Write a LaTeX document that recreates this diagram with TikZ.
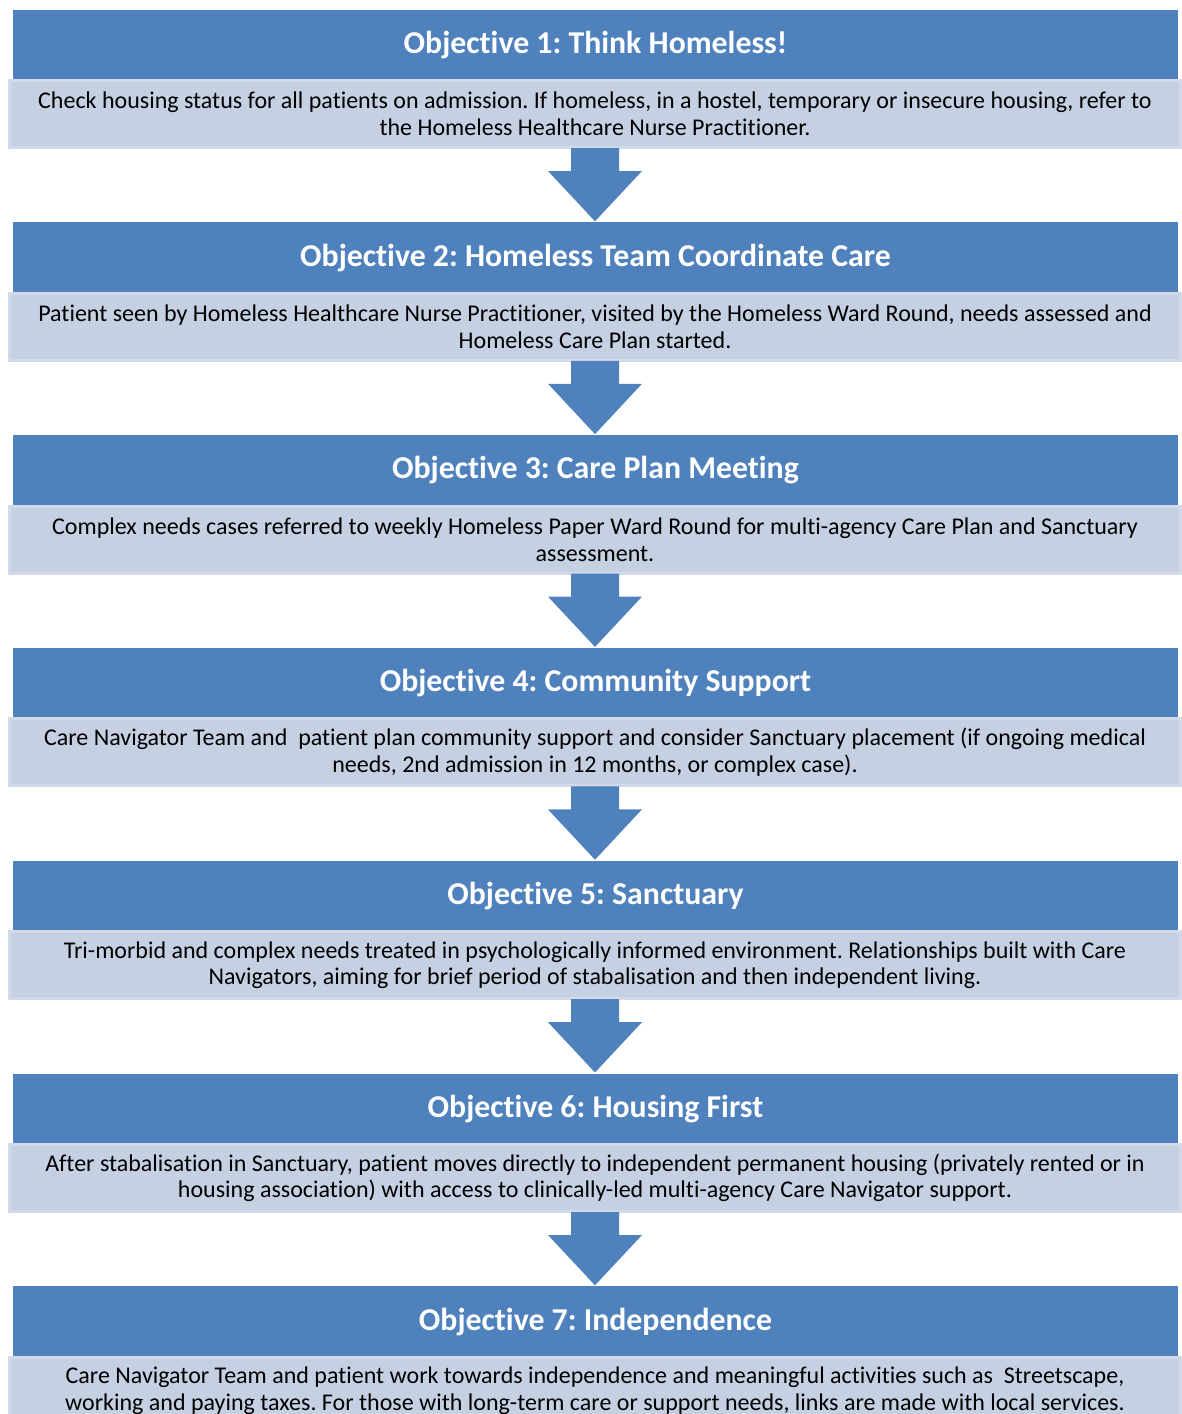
\documentclass[tikz,border=0pt]{standalone}
\usepackage{fontspec}
\setmainfont[Ligatures=NoCommon]{Carlito}
\usetikzlibrary{calc}
\frenchspacing
\definecolor{hdrblue}{HTML}{4F81BD}
\definecolor{bodyfill}{HTML}{C5D0E3}
\definecolor{bodyedge}{HTML}{D2DAE9}
\tikzset{
  header/.style={fill=hdrblue, minimum width=1165pt, minimum height=70.5pt,
    inner sep=0pt, outer sep=0pt, text=white,
    font=\fontsize{31.8}{36}\selectfont\bfseries, anchor=north},
  bodybox/.style={fill=bodyfill, draw=bodyedge, line width=3pt,
    minimum width=1171pt, minimum height=67pt, inner sep=0pt,
    align=center, font=\fontsize{24}{26.5}\selectfont, anchor=north},
  flowarrow/.style={fill=hdrblue}
}
\begin{document}
\begin{tikzpicture}[x=1pt,y=-1pt]
\useasboundingbox (0,0) rectangle (1182,1414);
\clip (0,0) rectangle (1182,1414);

% objective headers and their descriptions
\foreach \i/\title/\desc in {
 1/{Objective 1: Think Homeless!}/{Check housing status for all patients on admission. If homeless, in a hostel, temporary or insecure housing, refer to\\the Homeless Healthcare Nurse Practitioner.},
 2/{Objective 2: Homeless Team Coordinate Care}/{Patient seen by Homeless Healthcare Nurse Practitioner, visited by the Homeless Ward Round, needs assessed and\\Homeless Care Plan started.},
 3/{Objective 3: Care Plan Meeting}/{Complex needs cases referred to weekly Homeless Paper Ward Round for multi-agency Care Plan and Sanctuary\\assessment.},
 4/{Objective 4: Community Support}/{Care Navigator Team and\ \ patient plan community support and consider Sanctuary placement (if ongoing medical\\needs, 2nd admission in 12 months, or complex case).},
 5/{Objective 5: Sanctuary}/{Tri-morbid and complex needs treated in psychologically informed environment. Relationships built with Care\\Navigators, aiming for brief period of stabalisation and then independent living.},
 6/{Objective 6: Housing First}/{After stabalisation in Sanctuary, patient moves directly to independent permanent housing (privately rented or in\\housing association) with access to clinically-led multi-agency Care Navigator support.},
 7/{Objective 7: Independence}/{Care Navigator Team and patient work towards independence and meaningful activities such as\ \ Streetscape,\\working and paying taxes. For those with long-term care or support needs, links are made with local services.}}
{
  \pgfmathsetmacro{\top}{8.5+212.8*(\i-1)}
  \node[header] (h\i) at (595.5,\top+1) {\title};
  \node[bodybox] (b\i) at (595,\top+70.5) {\desc};
}

% block arrows between the stages
\foreach \i [evaluate=\i as \j using int(\i+1)] in {1,...,6}{
  \coordinate (s) at (b\i.south);
  \coordinate (t) at (h\j.north);
  \fill[flowarrow] ($(s)+(-24,-1)$) -- ($(s)+(24,-1)$) -- ($(s)+(24,22)$)
     -- ($(s)+(47,22)$) -- ($(t)+(-0.5,-1)$) -- ($(s)+(-47,22)$)
     -- ($(s)+(-24,22)$) -- cycle;
}
\end{tikzpicture}
\end{document}
